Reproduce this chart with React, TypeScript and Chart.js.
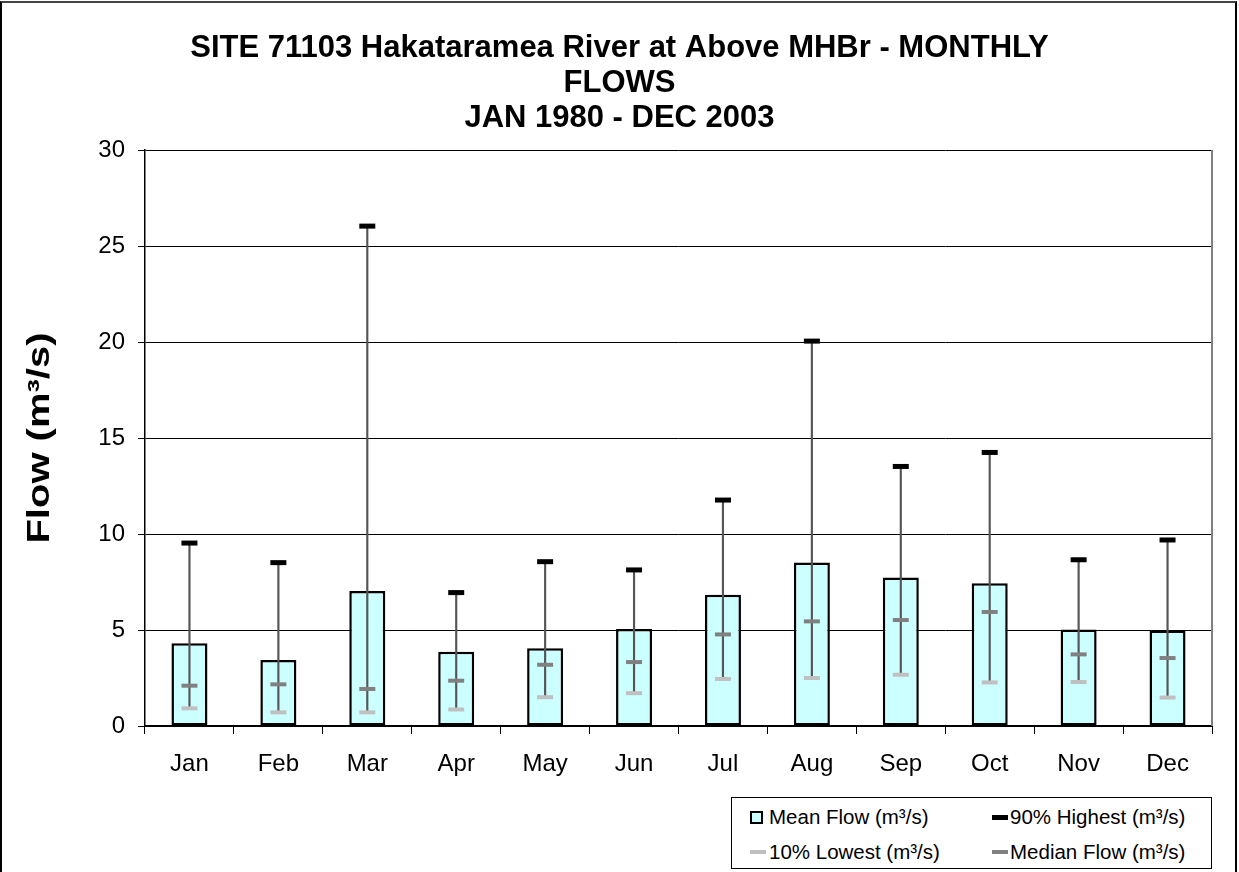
import React, { useEffect, useRef } from "react";
import { Chart, registerables } from "chart.js";

Chart.register(...registerables);

const FONT = "'Liberation Sans', Arial, Helvetica, sans-serif";

const months = ["Jan", "Feb", "Mar", "Apr", "May", "Jun", "Jul", "Aug", "Sep", "Oct", "Nov", "Dec"];
const meanFlow = [4.31, 3.44, 7.03, 3.87, 4.05, 5.05, 6.84, 8.52, 7.74, 7.44, 5.03, 4.98];
const highest90 = [9.53, 8.51, 26.04, 6.95, 8.56, 8.13, 11.77, 20.05, 13.52, 14.25, 8.66, 9.69];
const medianFlow = [2.1, 2.17, 1.93, 2.36, 3.19, 3.33, 4.77, 5.45, 5.52, 5.94, 3.73, 3.54];
const lowest10 = [0.92, 0.71, 0.71, 0.86, 1.5, 1.71, 2.45, 2.5, 2.67, 2.27, 2.29, 1.48];
const yTicks = [0, 5, 10, 15, 20, 25, 30];

const titleLines = [
  "SITE 71103 Hakataramea River at Above MHBr - MONTHLY",
  "FLOWS",
  "JAN 1980 - DEC 2003",
];

export default function App() {
  const canvasRef = useRef<HTMLCanvasElement | null>(null);

  useEffect(() => {
    const canvas = canvasRef.current;
    if (!canvas) return;

    const rightBorder = {
      id: "rightBorder",
      beforeDatasetsDraw(chart: any) {
        const { ctx, chartArea } = chart;
        ctx.save();
        ctx.strokeStyle = "#808080";
        ctx.lineWidth = 2;
        ctx.beginPath();
        ctx.moveTo(chartArea.right, chartArea.top);
        ctx.lineTo(chartArea.right, chartArea.bottom);
        ctx.stroke();
        ctx.restore();
      },
    };

    // The reference's vertical axis title is drawn stretched along its length.
    const stretchedYTitle = {
      id: "stretchedYTitle",
      beforeDraw(chart: any) {
        const scale = chart.scales.y;
        if (!scale || scale.__stretched) return;
        const orig = Object.getPrototypeOf(scale).drawTitle;
        scale.drawTitle = function () {
          const ctx = this.ctx;
          const cy = (this.top + this.bottom) / 2;
          ctx.save();
          ctx.translate(0, cy);
          ctx.scale(1, 1.29);
          ctx.translate(0, -cy);
          orig.call(this);
          ctx.restore();
        };
        scale.__stretched = true;
      },
    };

    const chart = new Chart(canvas, {
      type: "bar",
      data: {
        labels: months,
        datasets: [
          {
            type: "bar",
            label: "Mean Flow (m³/s)",
            data: meanFlow,
            backgroundColor: "#ccffff",
            borderColor: "#000000",
            borderWidth: 2.5,
            borderSkipped: false,
            barPercentage: 0.405,
            categoryPercentage: 1,
            grouped: false,
            order: 5,
          } as any,
          {
            type: "bar",
            label: "range",
            data: months.map((_, i) => [lowest10[i], highest90[i]]),
            backgroundColor: "#555555",
            borderWidth: 0,
            barThickness: 1.5,
            grouped: false,
            order: 4,
          } as any,
          {
            type: "line",
            label: "90% Highest (m³/s)",
            data: highest90,
            showLine: false,
            pointStyle: "line",
            pointRadius: 8,
            pointBorderWidth: 5,
            pointBorderColor: "#000000",
            borderColor: "#000000",
            order: 1,
          } as any,
          {
            type: "line",
            label: "10% Lowest (m³/s)",
            data: lowest10,
            showLine: false,
            pointStyle: "line",
            pointRadius: 8,
            pointBorderWidth: 4,
            pointBorderColor: "#c0c0c0",
            borderColor: "#c0c0c0",
            order: 2,
          } as any,
          {
            type: "line",
            label: "Median Flow (m³/s)",
            data: medianFlow,
            showLine: false,
            pointStyle: "line",
            pointRadius: 8,
            pointBorderWidth: 4,
            pointBorderColor: "#808080",
            borderColor: "#808080",
            order: 2,
          } as any,
        ],
      },
      options: {
        responsive: false,
        animation: false,
        events: [],
        layout: { padding: { left: 27, right: 27, top: 0, bottom: 0 } },
        plugins: {
          legend: { display: false },
          tooltip: { enabled: false },
          title: {
            display: true,
            text: titleLines,
            color: "#000000",
            font: { family: FONT, size: 31, weight: "bold", lineHeight: 1.13 },
            padding: { top: 31, bottom: 14 },
          },
        },
        scales: {
          x: {
            type: "category",
            offset: true,
            grid: {
              offset: true,
              drawOnChartArea: false,
              drawTicks: true,
              tickLength: 8,
              color: "#000000",
              lineWidth: 1,
            },
            border: { color: "#000000", width: 2 },
            ticks: {
              font: { family: FONT, size: 24 },
              color: "#000000",
              padding: 16,
            },
            afterFit: (s: any) => {
              s.height = 146;
            },
          },
          y: {
            min: 0,
            max: 30,
            afterBuildTicks: (s: any) => {
              s.ticks = yTicks.map((v) => ({ value: v }));
            },
            ticks: {
              font: { family: FONT, size: 24 },
              color: "#000000",
              padding: 13,
            },
            grid: { color: "#000000", lineWidth: 1, tickLength: 7 },
            border: { color: "#000000", width: 1.5 },
            title: {
              display: true,
              text: "Flow (m³/s)",
              color: "#000000",
              font: { family: FONT, size: 31, weight: "bold", lineHeight: 0.84 },
              padding: { top: 0, bottom: 0 },
            },
            afterFit: (s: any) => {
              s.width = 118;
            },
          },
        },
      } as any,
      plugins: [rightBorder, stretchedYTitle],
    });

    return () => {
      chart.destroy();
    };
  }, []);

  const legendText: React.CSSProperties = {
    position: "absolute",
    fontFamily: FONT,
    fontSize: "20.5px",
    color: "#000",
    lineHeight: "24px",
    whiteSpace: "nowrap",
  };

  return (
    <div style={{ position: "absolute", left: 0, top: 0, width: 1239, height: 872, overflow: "hidden", background: "#fff" }}>
      <div
        style={{
          position: "absolute",
          left: 0,
          top: 1,
          width: 1237,
          height: 900,
          boxSizing: "border-box",
          border: "2px solid #000",
          borderTopColor: "#444",
        }}
      />
      <canvas
        ref={canvasRef}
        width={1239}
        height={872}
        style={{ position: "absolute", left: 0, top: 0, width: 1239, height: 872, display: "block" }}
      />
      <div
        style={{
          position: "absolute",
          left: 731,
          top: 797,
          width: 481,
          height: 72,
          boxSizing: "border-box",
          border: "1px solid #000",
          background: "#fff",
        }}
      >
        <div style={{ position: "absolute", left: 18, top: 13, width: 13, height: 13, boxSizing: "border-box", border: "2px solid #000", background: "#ccffff" }} />
        <span style={{ ...legendText, left: 37, top: 7 }}>Mean Flow (m³/s)</span>
        <div style={{ position: "absolute", left: 260, top: 17, width: 16, height: 5, background: "#000" }} />
        <span style={{ ...legendText, left: 278, top: 7 }}>90% Highest (m³/s)</span>
        <div style={{ position: "absolute", left: 18, top: 52, width: 16, height: 4, background: "#c0c0c0" }} />
        <span style={{ ...legendText, left: 37, top: 42 }}>10% Lowest (m³/s)</span>
        <div style={{ position: "absolute", left: 260, top: 52, width: 16, height: 4, background: "#808080" }} />
        <span style={{ ...legendText, left: 278, top: 42 }}>Median Flow (m³/s)</span>
      </div>
    </div>
  );
}
